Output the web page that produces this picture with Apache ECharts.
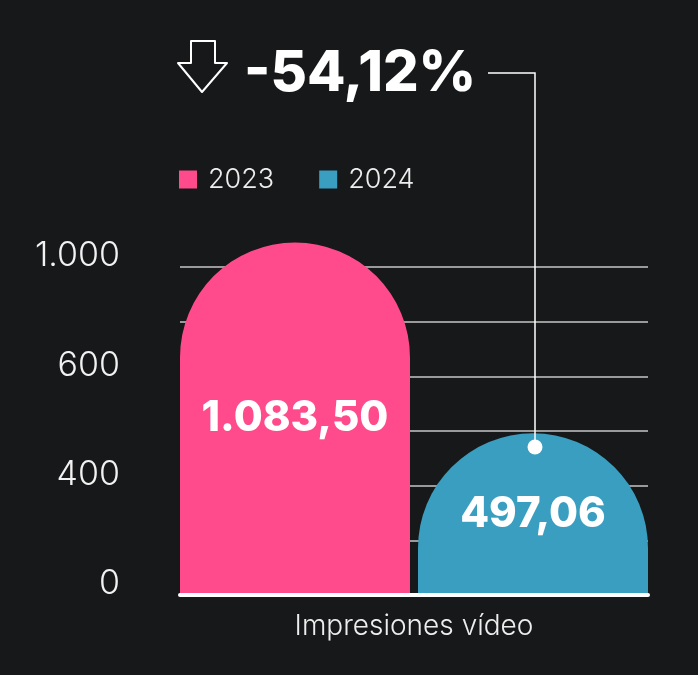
<!DOCTYPE html>
<html>
<head>
<meta charset="utf-8">
<script src="https://cdn.jsdelivr.net/npm/echarts@6/dist/echarts.min.js"></script>
<style>
  html, body { margin: 0; padding: 0; background: #17181a; }
  #chart { width: 698px; height: 675px; }
</style>
</head>
<body>
<div id="chart"></div>
<script>
// ---- data ----
const categories = ['Impresiones vídeo'];
const seriesNames = ['2023', '2024'];
const values2023 = [1083.50];
const values2024 = [497.06];
const yTickLabels = ['0', '', '400', '', '600', '', '1.000'];
const yInterval = 168;
const yMax = 1008;

// ---- helpers ----
function fmtEs(v, dec) {
  const parts = v.toFixed(dec).split('.');
  const intPart = parts[0].replace(/\B(?=(\d{3})+(?!\d))/g, '.');
  return parts.length > 1 ? intPart + ',' + parts[1] : intPart;
}
const change = (values2024[0] - values2023[0]) / values2023[0] * 100;
const changeText = fmtEs(change, 2) + '%';

const FONT = 'Inter, "Noto Sans", sans-serif';
const PINK = '#ff4a8b';
const TEAL = '#3a9ec0';

const chart = echarts.init(document.getElementById('chart'), null, { renderer: 'canvas' });

const option = {
  backgroundColor: '#17181a',
  animation: false,
  textStyle: { fontFamily: FONT },
  legend: {
    data: seriesNames,
    left: 179,
    top: 166,
    padding: 0,
    icon: 'rect',
    itemWidth: 18,
    itemHeight: 18,
    itemGap: 45,
    textStyle: {
      color: '#eeeeee',
      fontSize: 27,
      fontWeight: 300,
      fontFamily: FONT,
      padding: [0, 0, 0, 6]
    }
  },
  grid: { left: 180, right: 50, top: 267, bottom: 80, containLabel: false },
  xAxis: {
    type: 'category',
    data: categories,
    axisLine: { show: true, lineStyle: { color: '#ffffff', width: 4 } },
    axisTick: { show: false },
    axisLabel: {
      color: '#eeeeee',
      fontSize: 28,
      fontWeight: 300,
      fontFamily: FONT,
      margin: 18
    },
    z: 10
  },
  yAxis: {
    type: 'value',
    min: 0,
    max: yMax,
    interval: yInterval,
    axisLine: { show: false },
    axisTick: { show: false },
    splitLine: { show: true, lineStyle: { color: '#9a9a9a', width: 2 } },
    axisLabel: {
      color: '#f2f2f2',
      fontSize: 34,
      fontWeight: 300,
      fontFamily: FONT,
      margin: 60,
      verticalAlign: 'bottom',
      lineHeight: 22,
      formatter: function (v, i) { return yTickLabels[i] || ''; }
    }
  },
  series: [
    {
      name: seriesNames[0],
      type: 'bar',
      data: values2023,
      barWidth: 230,
      barGap: '3.48%',
      clip: false,
      itemStyle: { color: PINK, borderRadius: [115, 115, 0, 0] },
      label: {
        show: true,
        position: 'inside',
        color: '#ffffff',
        fontSize: 42,
        fontWeight: 800,
        fontFamily: FONT,
        formatter: function (p) { return fmtEs(p.value, 2); }
      }
    },
    {
      name: seriesNames[1],
      type: 'bar',
      data: values2024,
      barWidth: 230,
      clip: false,
      itemStyle: { color: TEAL, borderRadius: [115, 115, 0, 0] },
      label: {
        show: true,
        position: 'inside',
        color: '#ffffff',
        fontSize: 42,
        fontWeight: 800,
        fontFamily: FONT,
        formatter: function (p) { return fmtEs(p.value, 2); }
      }
    }
  ],
  graphic: [
    {
      type: 'polygon',
      shape: {
        points: [[191, 41], [215, 41], [215, 63], [227, 63], [202, 92], [178, 63], [191, 63]]
      },
      style: { fill: 'none', stroke: '#ffffff', lineWidth: 2, lineJoin: 'round' },
      z: 100
    },
    {
      type: 'text',
      x: 244,
      y: 74,
      style: {
        text: changeText,
        fill: '#ffffff',
        font: '800 56px ' + FONT,
        verticalAlign: 'middle',
        align: 'left'
      },
      z: 100
    },
    {
      type: 'polyline',
      shape: { points: [[488, 73], [535, 73], [535, 447]] },
      style: { fill: 'none', stroke: '#ffffff', lineWidth: 1.5 },
      z: 100
    },
    {
      type: 'circle',
      shape: { cx: 535, cy: 447, r: 7.5 },
      style: { fill: '#ffffff' },
      z: 100
    }
  ]
};
chart.setOption(option);
</script>
</body>
</html>
